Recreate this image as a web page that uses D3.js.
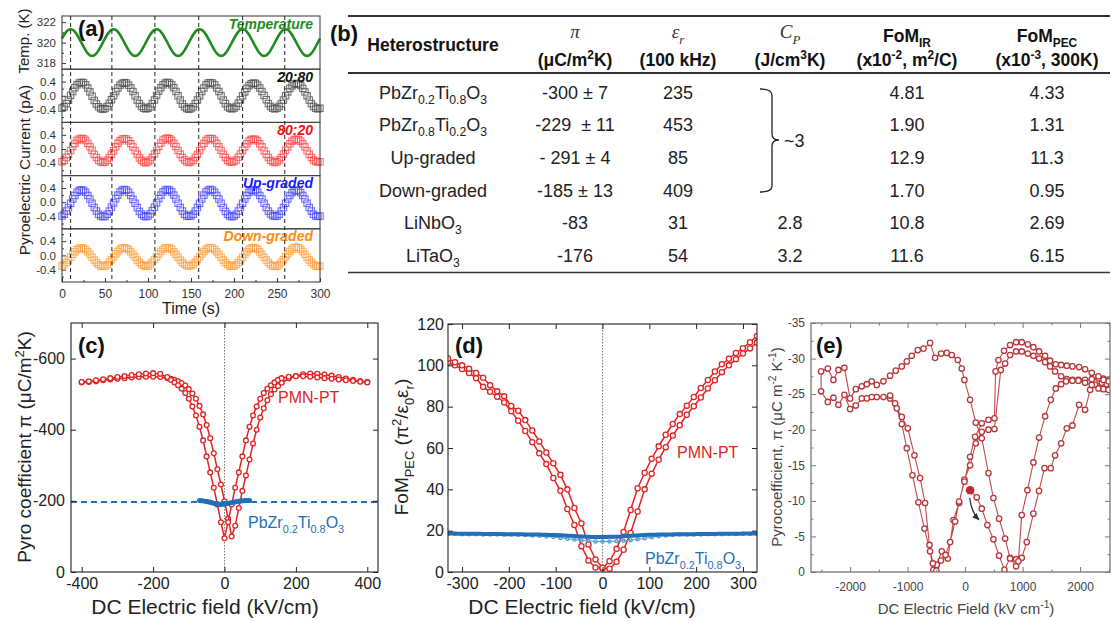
<!DOCTYPE html>
<html><head><meta charset="utf-8">
<script src="https://cdn.jsdelivr.net/npm/d3@7"></script>
<style>body{margin:0;background:#fff}</style>
</head><body>
<script>
// ---------- (a) pyroelectric current vs time, sampled every 2.5 s ----------
var aStep = 2.5;
var aTemp = [320.40,320.76,321.05,321.24,
 321.30,321.24,321.05,320.76,320.40,320.00,319.60,319.24,318.95,318.76,318.70,318.76,318.95,319.24,319.60,320.00,320.40,320.76,321.05,321.24,
 321.30,321.24,321.05,320.76,320.40,320.00,319.60,319.24,318.95,318.76,318.70,318.76,318.95,319.24,319.60,320.00,320.40,320.76,321.05,321.24,
 321.30,321.24,321.05,320.76,320.40,320.00,319.60,319.24,318.95,318.76,318.70,318.76,318.95,319.24,319.60,320.00,320.40,320.76,321.05,321.24,
 321.30,321.24,321.05,320.76,320.40,320.00,319.60,319.24,318.95,318.76,318.70,318.76,318.95,319.24,319.60,320.00,320.40,320.76,321.05,321.24,
 321.30,321.24,321.05,320.76,320.40,320.00,319.60,319.24,318.95,318.76,318.70,318.76,318.95,319.24,319.60,320.00,320.40,320.76,321.05,321.24,
 321.30,321.24,321.05,320.76,320.40,320.00,319.60,319.24,318.95,318.76,318.70,318.76,318.95,319.24,319.60,320.00,320.40];
var a2080 = [-0.35,-0.31,-0.22,-0.12,0.01,0.12,0.23,0.31,0.36,0.38,0.37,0.31,0.22,0.11,-0.01,-0.13,-0.23,-0.31,-0.36,-0.38,
 -0.36,-0.30,-0.21,-0.11,0.00,0.12,0.22,0.30,0.35,0.37,0.36,0.30,0.22,0.12,0.00,-0.12,-0.22,-0.30,-0.35,-0.37,
 -0.35,-0.31,-0.22,-0.12,0.01,0.13,0.23,0.31,0.36,0.38,0.36,0.31,0.23,0.12,0.00,-0.12,-0.23,-0.31,-0.36,-0.38,
 -0.36,-0.31,-0.22,-0.12,0.00,0.12,0.22,0.31,0.36,0.37,0.36,0.31,0.22,0.12,0.00,-0.12,-0.22,-0.31,-0.35,-0.37,
 -0.35,-0.30,-0.21,-0.11,0.00,0.11,0.21,0.29,0.34,0.36,0.35,0.30,0.22,0.12,0.01,-0.11,-0.22,-0.30,-0.35,-0.37,
 -0.35,-0.30,-0.22,-0.12,0.00,0.11,0.21,0.28,0.33,0.35,0.33,0.29,0.21,0.11,0.00,-0.12,-0.22,-0.30,-0.35,-0.37,-0.35];
var a8020 = [-0.36,-0.32,-0.24,-0.15,-0.04,0.07,0.16,0.24,0.28,0.30,0.29,0.24,0.16,0.06,-0.04,-0.15,-0.24,-0.32,-0.36,-0.38,
 -0.37,-0.32,-0.25,-0.15,-0.05,0.06,0.16,0.23,0.28,0.29,0.28,0.23,0.15,0.06,-0.05,-0.15,-0.25,-0.32,-0.37,-0.39,
 -0.36,-0.31,-0.24,-0.14,-0.04,0.07,0.17,0.25,0.29,0.31,0.29,0.24,0.16,0.07,-0.04,-0.15,-0.24,-0.31,-0.36,-0.38,
 -0.36,-0.32,-0.24,-0.15,-0.04,0.07,0.16,0.24,0.29,0.30,0.29,0.24,0.16,0.06,-0.04,-0.15,-0.24,-0.32,-0.36,-0.37,
 -0.35,-0.31,-0.23,-0.14,-0.04,0.06,0.15,0.23,0.27,0.28,0.27,0.23,0.15,0.06,-0.05,-0.15,-0.24,-0.32,-0.36,-0.38,
 -0.36,-0.31,-0.24,-0.14,-0.04,0.06,0.15,0.22,0.26,0.28,0.26,0.22,0.15,0.06,-0.05,-0.15,-0.24,-0.31,-0.35,-0.37,-0.36];
var aUp = [-0.39,-0.34,-0.25,-0.15,-0.03,0.09,0.19,0.28,0.33,0.35,0.33,0.28,0.19,0.09,-0.03,-0.15,-0.25,-0.34,-0.39,-0.41,
 -0.40,-0.34,-0.25,-0.14,-0.02,0.10,0.20,0.29,0.34,0.36,0.34,0.28,0.19,0.08,-0.03,-0.15,-0.26,-0.34,-0.39,-0.41,
 -0.39,-0.33,-0.24,-0.14,-0.02,0.10,0.20,0.29,0.34,0.36,0.34,0.29,0.20,0.09,-0.03,-0.15,-0.25,-0.34,-0.39,-0.40,
 -0.39,-0.34,-0.25,-0.15,-0.03,0.09,0.20,0.29,0.34,0.36,0.34,0.28,0.19,0.09,-0.03,-0.15,-0.26,-0.34,-0.39,-0.41,
 -0.39,-0.34,-0.25,-0.15,-0.03,0.09,0.19,0.28,0.33,0.35,0.33,0.28,0.19,0.09,-0.03,-0.15,-0.25,-0.33,-0.38,-0.40,
 -0.39,-0.34,-0.25,-0.15,-0.03,0.09,0.19,0.27,0.32,0.34,0.32,0.27,0.19,0.09,-0.03,-0.15,-0.25,-0.34,-0.39,-0.40,-0.39];
var aDown = [-0.30,-0.26,-0.20,-0.13,-0.05,0.03,0.10,0.16,0.20,0.21,0.20,0.16,0.10,0.03,-0.05,-0.13,-0.20,-0.26,-0.30,-0.31,
 -0.30,-0.26,-0.19,-0.12,-0.04,0.04,0.11,0.17,0.21,0.22,0.20,0.16,0.10,0.03,-0.05,-0.13,-0.20,-0.26,-0.29,-0.31,
 -0.30,-0.25,-0.19,-0.12,-0.04,0.04,0.11,0.17,0.21,0.22,0.21,0.17,0.10,0.03,-0.05,-0.13,-0.20,-0.25,-0.29,-0.30,
 -0.29,-0.25,-0.19,-0.12,-0.04,0.04,0.11,0.17,0.21,0.22,0.21,0.16,0.10,0.03,-0.05,-0.13,-0.20,-0.26,-0.30,-0.31,
 -0.30,-0.26,-0.20,-0.13,-0.05,0.03,0.10,0.17,0.21,0.22,0.21,0.17,0.10,0.03,-0.05,-0.13,-0.20,-0.26,-0.30,-0.31,
 -0.30,-0.26,-0.19,-0.12,-0.04,0.04,0.11,0.17,0.22,0.23,0.22,0.17,0.11,0.03,-0.05,-0.13,-0.20,-0.26,-0.30,-0.31,-0.30];
var aDashTimes = [10,58,108,159,210,259];
var aTimeTicks = [0,50,100,150,200,250,300];

// ---------- (b) table ----------
var tabHead1 = ["Heterostructure","π","ε_{r}","C_{P}","FoM_{IR}","FoM_{PEC}"];
var tabHead2 = ["","(μC/m^{2}K)","(100 kHz)","(J/cm^{3}K)","(x10^{-2}, m^{2}/C)","(x10^{-3}, 300K)"];
var tabNames = ["PbZr_{0.2}Ti_{0.8}O_{3}","PbZr_{0.8}Ti_{0.2}O_{3}","Up-graded","Down-graded","LiNbO_{3}","LiTaO_{3}"];
var tabPi = ["-300 ± 7","-229  ± 11","- 291 ± 4","-185 ± 13","-83","-176"];
var tabEps = ["235","453","85","409","31","54"];
var tabCp = ["","","","","2.8","3.2"];
var tabFomIR = ["4.81","1.90","12.9","1.70","10.8","11.6"];
var tabFomPEC = ["4.33","1.31","11.3","0.95","2.69","6.15"];

// ---------- (c) pyro coefficient vs field ----------
var cField = [-400,-380,-360,-340,-320,-300,-280,-260,-240,-220,-200,-180,-160,
 -150,-140,-130,-120,-110,-100,-90,-80,-70,-60,-50,-40,-30,-20,-10,0,10,20,30,40,50,60,70,80,90,100,110,120,130,140,150,
 160,180,200,220,240,260,280,300,320,340,360,380,400];
var cPmnDown = [-534,-536,-539,-542,-545,-548,-551,-554,-556,-558,-559,-557,-548,
 -540,-533,-525,-515,-503,-487,-465,-440,-408,-370,-325,-280,-237,-190,-140,-95,-140,-190,-237,-280,-325,-370,-408,-440,-465,-487,-503,-515,-525,-533,-540,
 -545,-549,-550,-550,-549,-547,-545,-543,-541,-539,-537,-535,-533];
var cPmnUp = [-533,-534,-536,-539,-541,-543,-545,-547,-548,-549,-549,-548,-545,
 -543,-540,-536,-531,-524,-514,-502,-487,-467,-443,-413,-376,-334,-289,-246,-199,-150,-100,-130,-180,-228,-271,-316,-361,-400,-434,-460,-483,-500,-513,-523,
 -532,-544,-551,-556,-558,-557,-555,-552,-548,-544,-540,-537,-534];
var cPztField = [-70,-60,-50,-40,-30,-20,-10,0,10,20,30,40,50,60,70];
var cPzt = [-201,-200,-198,-196,-193,-191,-190,-191,-193,-195,-197,-199,-200,-201,-201];
var cPztRef = -197;

// ---------- (d) FoM_PEC vs field ----------
var dField = [-330,-315,-300,-285,-270,-255,-240,-225,-210,-195,-180,-165,-150,-135,-120,-105,-90,-75,-60,-45,-30,-15,0,
 15,30,45,60,75,90,105,120,135,150,165,180,195,210,225,240,255,270,285,300,315,330];
var dPmn1 = [101.4,100,98.2,96.3,93.8,89.6,87.2,84.8,82,77.8,73.2,68.2,62.8,57.4,52.2,45.5,39.3,30.5,22.8,12.5,5.6,2.2,1.8,
 5.2,11.2,19.4,30,40.5,48,54.8,60.8,66.4,71.6,76.4,80.5,84.7,89,92.9,97,100.5,103.2,106,108.3,111.2,114.2];
var dPmn2 = [103.3,101.5,100,98.4,96.3,94,90.4,87.4,85,80.3,78,73.5,68.5,63.2,57.8,52.6,47,40,31,23.5,13.3,6.1,2.1,
 1.6,4.9,10.8,18.9,29.3,40,47.6,54.3,60.4,66,71,76.1,80.2,84.4,88.8,92.8,96.7,100,103,105.7,108.2,111];
var dPzt1 = [18.6,18.6,18.5,18.5,18.5,18.4,18.4,18.4,18.3,18.3,18.3,18.2,18.2,18.1,18.0,17.9,17.8,17.6,17.4,17.2,17.0,16.9,16.9,
 17.0,17.1,17.3,17.5,17.7,17.9,18.0,18.1,18.2,18.2,18.3,18.3,18.3,18.4,18.4,18.4,18.5,18.5,18.5,18.6,18.6,18.6];
var dPzt2 = [18.4,18.4,18.3,18.3,18.3,18.2,18.2,18.2,18.1,18.1,18.0,17.9,17.7,17.5,17.2,16.9,16.5,16.1,15.7,15.3,15.0,14.8,14.7,
 14.8,14.9,15.1,15.4,15.8,16.3,16.8,17.3,17.7,18.0,18.1,18.2,18.2,18.2,18.3,18.3,18.3,18.4,18.4,18.4,18.4,18.4];

// ---------- (e) pyrocoefficient loop, in measurement order ----------
var eStart = [87,-11.5];
var eLoop = [[87,-11.5],[203,-10.5],[290,-8.9],[388,-6.6],[493,-4.6],[591,-2.3],[684,-0.3],[783,-2.0],[887,-1.8],[986,-2.0],[1072,-4.2],[1188,-8.2],[1285,-11.4],[1380,-14.6],[1490,-14.6],[1565,-16.4],[1670,-18.1],[1768,-20.2],[1867,-20.6],[1983,-23.5],[2087,-22.8],[2174,-25.6],[2261,-26.3],[2377,-26.6],[2493,-25.7],
 [2493,-27.0],[2406,-27.2],[2319,-27.2],[2203,-27.1],[2087,-27.0],[1971,-27.0],[1867,-27.0],[1768,-27.1],[1670,-27.5],[1565,-28.2],[1478,-28.9],[1391,-29.5],[1287,-30.0],[1188,-30.4],[1090,-30.7],[986,-31.0],[887,-31.0],[783,-30.5],[696,-29.3],[620,-28.4],
 [510,-20.1],[406,-20.0],[290,-19.7],[186,-18.1],[87,-15.0],[-12,-13.0],[-104,-9.7],[-203,-7.3],[-301,-1.9],[-406,-2.9],[-493,-1.0],[-551,-0.3],[-609,-2.9],[-707,-6.1],[-812,-9.8],[-916,-13.6],[-1014,-17.4],[-1101,-20.8],[-1217,-23.7],[-1304,-24.4],[-1420,-24.6],[-1536,-24.6],[-1623,-24.6],[-1710,-24.4],[-1797,-24.4],[-1901,-23.4],[-2000,-22.9],[-2099,-24.9],[-2203,-23.5],[-2290,-24.5],[-2388,-23.9],[-2504,-25.4],
 [-2504,-28.2],[-2388,-28.6],[-2290,-27.0],[-2203,-28.4],[-2099,-28.7],[-2000,-24.4],[-1901,-25.7],[-1797,-26.1],[-1710,-26.4],[-1623,-26.8],[-1536,-26.3],[-1420,-26.8],[-1304,-27.6],[-1206,-28.3],[-1101,-28.9],[-1014,-29.6],[-928,-30.4],[-823,-31.2],[-725,-31.4],[-609,-32.2],[-522,-30.1],[-417,-30.7],[-319,-30.8],[-232,-30.5],[-128,-29.8],[-58,-28.6],[-12,-27.0],
 [87,-24.2],[186,-21.0],[290,-18.8],[406,-13.9],[493,-10.4],[591,-7.5],[696,-4.7],[783,-1.9],[887,-0.8],[927,-1.5],[985,-8.0],[1084,-11.5],[1188,-15.4],[1287,-18.9],[1391,-21.9],[1490,-24.2],[1577,-25.8],[1670,-26.4],[1757,-26.8],[1867,-26.9],[1971,-26.9],[2087,-26.6],[2203,-26.3],[2319,-25.8],[2406,-25.7],[2493,-25.6],
 [2493,-26.8],[2406,-27.0],[2319,-27.5],[2203,-28.0],[2087,-28.5],[1983,-28.8],[1867,-28.9],[1768,-29.0],[1670,-29.1],[1577,-29.2],[1478,-29.7],[1391,-30.4],[1287,-31.0],[1188,-31.6],[1090,-32.0],[986,-32.3],[887,-32.3],[783,-31.9],[678,-31.1],[580,-29.8],[530,-28.2],
 [510,-21.6],[406,-21.4],[290,-20.9],[174,-19.0],[87,-16.2],[-12,-12.7],[-104,-9.9],[-174,-7.1],[-260,-4.2],[-340,-2.4],[-420,-1.6],[-500,-0.2],[-560,-1.2],[-620,-3.8],[-696,-9.7],[-783,-13.2],[-881,-16.4],[-997,-20.2],[-1101,-21.8],[-1188,-23.0],[-1304,-24.8]];

var FONT = "Arial, 'Liberation Sans', Helvetica, sans-serif";
var SERIF = "'Liberation Serif', 'Times New Roman', serif";

var svg = d3.select("body").append("svg").attr("width", 1111).attr("height", 621).style("font-family", FONT);
svg.append("rect").attr("width", 1111).attr("height", 621).attr("fill", "white");

// split "a_{b}c^{d}" into [text, mode] parts
function parseRich(s){
  return s.split(/(_\{[^}]*\}|\^\{[^}]*\})/).filter(function(x){return x.length;}).map(function(x){
    if(x[0]=="_" && x[1]=="{") return [x.slice(2,-1),"sub"];
    if(x[0]=="^" && x[1]=="{") return [x.slice(2,-1),"sup"];
    return [x,""];
  });
}
function rich(txt, s, fs){
  var shift = 0;
  parseRich(s).forEach(function(p){
    var target = p[1]=="sub" ? fs*0.3 : (p[1]=="sup" ? -fs*0.38 : 0);
    txt.append("tspan").attr("dy", (target-shift).toFixed(2)).style("font-size", (p[1] ? fs*0.68 : fs)+"px").text(p[0]);
    shift = target;
  });
  return txt;
}
function label(x, y, s, fs, opt){
  opt = opt || {};
  var t = svg.append("text").attr("x", x).attr("y", y).attr("text-anchor", opt.anchor || "middle")
    .style("fill", opt.fill || "#222").style("font-weight", opt.weight || "normal").style("font-style", opt.style || "normal")
    .style("white-space", "pre");
  if(opt.family) t.style("font-family", opt.family);
  return rich(t, s, fs);
}
function vlabel(x, y, s, fs, fill){
  var t = svg.append("text").attr("transform", "translate("+x+","+y+") rotate(-90)").attr("text-anchor", "middle").style("fill", fill || "#222");
  return rich(t, s, fs);
}
function styleAxis(g, fs, col, lineCol){
  g.select(".domain").remove();
  g.selectAll(".tick line").attr("stroke", lineCol || "#333");
  g.selectAll(".tick text").style("font-size", fs+"px").style("fill", col).style("font-family", FONT);
}

// ======================= (a) =======================
var aX = d3.scaleLinear().domain([0,300]).range([62,320]);
var aTop = 16, aH = 53.2, aBottom = aTop + 5*aH;
var aRows = [
  {name:"Temperature", vals:aTemp, dom:[317.4,322.6], ticks:[318,320,322], minor:[319,321], fmt:function(d){return d;}, col:"#1e8c1e", lab:"#1e8c1e"},
  {name:"20:80", vals:a2080, dom:[-0.75,0.75], ticks:[-0.4,0,0.4], minor:[-0.6,-0.2,0.2,0.6], fmt:function(d){return d.toFixed(1);}, col:"#505050", lab:"#111"},
  {name:"80:20", vals:a8020, dom:[-0.75,0.75], ticks:[-0.4,0,0.4], minor:[-0.6,-0.2,0.2,0.6], fmt:function(d){return d.toFixed(1);}, col:"#ff4a4a", lab:"#ff1010"},
  {name:"Up-graded", vals:aUp, dom:[-0.75,0.75], ticks:[-0.4,0,0.4], minor:[-0.6,-0.2,0.2,0.6], fmt:function(d){return d.toFixed(1);}, col:"#4a4aff", lab:"#1a1aff"},
  {name:"Down-graded", vals:aDown, dom:[-0.75,0.75], ticks:[-0.4,0,0.4], minor:[-0.6,-0.2,0.2,0.6], fmt:function(d){return d.toFixed(1);}, col:"#ffa040", lab:"#ff8c10"}
];

aRows.forEach(function(r, i){
  var y0 = aTop + i*aH;
  var yS = d3.scaleLinear().domain(r.dom).range([y0+aH, y0]);
  var ga = svg.append("g").attr("transform", "translate(62,0)")
    .call(d3.axisLeft(yS).tickValues(r.ticks).tickSize(-4).tickPadding(6).tickFormat(r.fmt));
  styleAxis(ga, 11.5, "#333");
  var gm = svg.append("g").attr("transform", "translate(62,0)")
    .call(d3.axisLeft(yS).tickValues(r.minor).tickSize(-2).tickFormat(""));
  styleAxis(gm, 11.5, "#333");
  if(i == 0){
    svg.append("path").datum(r.vals)
      .attr("d", d3.line().curve(d3.curveMonotoneX).x(function(d,k){return aX(k*aStep);}).y(function(d){return yS(d);}))
      .attr("fill", "none").attr("stroke", r.col).attr("stroke-width", 2.6);
  } else {
    svg.append("g").selectAll("rect").data(r.vals).enter().append("rect")
      .attr("x", function(d,k){return aX(k*aStep)-3.2;}).attr("y", function(d){return yS(d)-3.2;})
      .attr("width", 6.4).attr("height", 6.4)
      .attr("fill", "none").attr("stroke", r.col).attr("stroke-width", 1.1).attr("opacity", 0.8);
  }
  svg.append("rect").attr("x", 62).attr("y", y0).attr("width", 258).attr("height", aH)
    .attr("fill", "none").attr("stroke", "#444").attr("stroke-width", 1.1);
  label(313, y0 + 12.5, r.name, 14, {anchor:"end", fill:r.lab, weight:"bold", style:"italic"});
});

svg.append("g").selectAll("line").data(aDashTimes).enter().append("line")
  .attr("x1", function(d){return aX(d);}).attr("x2", function(d){return aX(d);})
  .attr("y1", aTop).attr("y2", aBottom)
  .attr("stroke", "#222").attr("stroke-width", 1).attr("stroke-dasharray", "4,3");

var gat = svg.append("g").attr("transform", "translate(0,"+aBottom+")")
  .call(d3.axisBottom(aX).tickValues(aTimeTicks).tickSize(-4).tickPadding(7));
styleAxis(gat, 12, "#333");
var gatm = svg.append("g").attr("transform", "translate(0,"+aBottom+")")
  .call(d3.axisBottom(aX).tickValues([25,75,125,175,225,275]).tickSize(-2).tickFormat(""));
styleAxis(gatm, 12, "#333");

label(191, 314, "Time (s)", 16, {fill:"#222"});
vlabel(29, 41, "Temp. (K)", 15);
vlabel(30, 170, "Pyroelectric Current (pA)", 15.5);
label(78, 36, "(a)", 22, {anchor:"start", weight:"bold", fill:"#111"});

// ======================= (b) table =======================
var tCols = [433, 575, 678, 790, 907, 1047];
var tRows = [92, 124, 157, 190, 222.5, 255];
label(330, 41, "(b)", 22, {anchor:"start", weight:"bold", fill:"#111"});
svg.append("line").attr("x1", 348).attr("x2", 1110).attr("y1", 16).attr("y2", 16).attr("stroke", "#333").attr("stroke-width", 2);
svg.append("line").attr("x1", 348).attr("x2", 1110).attr("y1", 73).attr("y2", 73).attr("stroke", "#333").attr("stroke-width", 2);
svg.append("line").attr("x1", 348).attr("x2", 1110).attr("y1", 272.5).attr("y2", 272.5).attr("stroke", "#333").attr("stroke-width", 1.6);

label(tCols[0], 51, tabHead1[0], 17.5, {weight:"bold", fill:"#111"});
[1,2,3].forEach(function(c){
  label(tCols[c], 38, tabHead1[c], 19, {family:SERIF, style:"italic", fill:"#333"});
});
[4,5].forEach(function(c){
  label(tCols[c], 42, tabHead1[c], 17.5, {weight:"bold", fill:"#111"});
});
[1,2,3,4,5].forEach(function(c){
  label(tCols[c], 66, tabHead2[c], 17.5, {weight:"bold", fill:"#111"});
});
var tabCols = [tabNames, tabPi, tabEps, tabCp, tabFomIR, tabFomPEC];
tabCols.forEach(function(col, c){
  col.forEach(function(s, r){
    if(s) label(tCols[c], tRows[r]+6.5, s, 18, {fill:"#222"});
  });
});
// brace for the shared heat capacity
svg.append("path")
  .attr("d", "M760,89 Q772,89 772,95 L772,134 Q772,140 779,140 Q772,140 772,146 L772,186 Q772,192 760,192")
  .attr("fill", "none").attr("stroke", "#222").attr("stroke-width", 1.3);
label(784, 146.5, "~3", 18, {anchor:"start", fill:"#222"});

// ======================= helpers for (c)(d)(e) =======================
function frame(x, y, o){
  var xr = x.range(), yr = y.range();
  var g = svg.append("g");
  var gb = g.append("g").attr("transform", "translate(0,"+yr[0]+")")
    .call(d3.axisBottom(x).tickValues(o.xt).tickSize(-o.tl).tickPadding(o.xpad).tickFormat(function(d){return d;}));
  styleAxis(gb, o.fs, o.col, o.line);
  var gl = g.append("g").attr("transform", "translate("+xr[0]+",0)")
    .call(d3.axisLeft(y).tickValues(o.yt).tickSize(-o.tl).tickPadding(o.ypad).tickFormat(function(d){return d;}));
  styleAxis(gl, o.fs, o.col, o.line);
  var gt = g.append("g").attr("transform", "translate(0,"+yr[1]+")")
    .call(d3.axisTop(x).tickValues(o.xt).tickSize(-o.tl).tickFormat(""));
  styleAxis(gt, o.fs, o.col, o.line);
  var gr = g.append("g").attr("transform", "translate("+xr[1]+",0)")
    .call(d3.axisRight(y).tickValues(o.yt).tickSize(-o.tl).tickFormat(""));
  styleAxis(gr, o.fs, o.col, o.line);
  if(o.xm){
    [d3.axisBottom, d3.axisTop].forEach(function(ax, k){
      var gg = g.append("g").attr("transform", "translate(0,"+(k ? yr[1] : yr[0])+")")
        .call(ax(x).tickValues(o.xm).tickSize(-o.tl/2).tickFormat(""));
      styleAxis(gg, o.fs, o.col, o.line);
    });
    [d3.axisLeft, d3.axisRight].forEach(function(ax, k){
      var gg = g.append("g").attr("transform", "translate("+(k ? xr[1] : xr[0])+",0)")
        .call(ax(y).tickValues(o.ym).tickSize(-o.tl/2).tickFormat(""));
      styleAxis(gg, o.fs, o.col, o.line);
    });
  }
  g.append("rect").attr("x", xr[0]).attr("y", yr[1]).attr("width", xr[1]-xr[0]).attr("height", yr[0]-yr[1])
    .attr("fill", "none").attr("stroke", o.line).attr("stroke-width", o.sw || 1.1);
}
function clipFor(id, x, y){
  var xr = x.range(), yr = y.range();
  svg.append("clipPath").attr("id", id).append("rect")
    .attr("x", xr[0]).attr("y", yr[1]).attr("width", xr[1]-xr[0]).attr("height", yr[0]-yr[1]);
  return svg.append("g").attr("clip-path", "url(#"+id+")");
}
function circleSeries(g, xs, ys, x, y, col, r, lw, fill){
  var pts = xs.map(function(v,i){return [v, ys[i]];});
  g.append("path").datum(pts).attr("d", d3.line().x(function(d){return x(d[0]);}).y(function(d){return y(d[1]);}))
    .attr("fill", "none").attr("stroke", col).attr("stroke-width", lw);
  g.append("g").selectAll("circle").data(pts).enter().append("circle")
    .attr("cx", function(d){return x(d[0]);}).attr("cy", function(d){return y(d[1]);}).attr("r", r)
    .attr("fill", fill || "white").attr("stroke", col).attr("stroke-width", 1.3);
}

var RED = "#e02424", BLUE = "#1f70b8";

// ======================= (c) =======================
var cX = d3.scaleLinear().domain([-430,430]).range([71,378]);
var cY = d3.scaleLinear().domain([0,-700]).range([572,323]);
var gc = clipFor("clipc", cX, cY);
gc.append("line").attr("x1", cX(0)).attr("x2", cX(0)).attr("y1", 323).attr("y2", 572)
  .attr("stroke", "#555").attr("stroke-width", 0.8).attr("stroke-dasharray", "1.5,1.5");
circleSeries(gc, cField, cPmnUp, cX, cY, RED, 2.4, 1.5);
circleSeries(gc, cField, cPmnDown, cX, cY, RED, 2.4, 1.5);
gc.append("line").attr("x1", 71).attr("x2", 378).attr("y1", cY(cPztRef)).attr("y2", cY(cPztRef))
  .attr("stroke", BLUE).attr("stroke-width", 2).attr("stroke-dasharray", "6,4");
var cPztPts = cPztField.map(function(v,i){return [v, cPzt[i]];});
gc.append("path").datum(cPztPts).attr("d", d3.line().curve(d3.curveMonotoneX).x(function(d){return cX(d[0]);}).y(function(d){return cY(d[1]);}))
  .attr("fill", "none").attr("stroke", BLUE).attr("stroke-width", 5).attr("stroke-linecap", "round");
frame(cX, cY, {xt:[-400,-200,0,200,400], yt:[0,-200,-400,-600], tl:5, xpad:6, ypad:6, fs:16, col:"#222", line:"#222"});
label(78, 353, "(c)", 22, {anchor:"start", weight:"bold", fill:"#111"});
label(278, 403, "PMN-PT", 16, {anchor:"start", fill:RED});
label(248, 528, "PbZr_{0.2}Ti_{0.8}O_{3}", 16, {anchor:"start", fill:BLUE});
label(205, 614, "DC Electric field (kV/cm)", 21, {fill:"#222"});
vlabel(31, 447, "Pyro coefficient π (μC/m^{2}K)", 19);

// ======================= (d) =======================
var dX = d3.scaleLinear().domain([-330,330]).range([448,757]);
var dY = d3.scaleLinear().domain([0,120]).range([572,324]);
var gd = clipFor("clipd", dX, dY);
gd.append("line").attr("x1", dX(0)).attr("x2", dX(0)).attr("y1", 324).attr("y2", 572)
  .attr("stroke", "#555").attr("stroke-width", 0.8).attr("stroke-dasharray", "1.5,1.5");
circleSeries(gd, dField, dPmn1, dX, dY, RED, 2.6, 1.5);
circleSeries(gd, dField, dPmn2, dX, dY, RED, 2.6, 1.5);
circleSeries(gd, dField, dPzt2, dX, dY, "#5a9ad6", 1.6, 1, "none");
var dPztPts = dField.map(function(v,i){return [v, dPzt1[i]];});
gd.append("path").datum(dPztPts).attr("d", d3.line().curve(d3.curveMonotoneX).x(function(d){return dX(d[0]);}).y(function(d){return dY(d[1]);}))
  .attr("fill", "none").attr("stroke", BLUE).attr("stroke-width", 4);
frame(dX, dY, {xt:[-300,-200,-100,0,100,200,300], yt:[0,20,40,60,80,100,120], tl:5, xpad:6, ypad:4, fs:16, col:"#222", line:"#222"});
label(455, 353, "(d)", 22, {anchor:"start", weight:"bold", fill:"#111"});
label(677, 458, "PMN-PT", 16, {anchor:"start", fill:RED});
label(645, 564, "PbZr_{0.2}Ti_{0.8}O_{3}", 16, {anchor:"start", fill:BLUE});
label(582, 614, "DC Electric field (kV/cm)", 21, {fill:"#222"});
vlabel(408, 447, "FoM_{PEC} (π^{2}/ε_{0}ε_{r})", 19);

// ======================= (e) =======================
var ERED = "#b8363b";
var eX = d3.scaleLinear().domain([-2680,2520]).range([811,1110]);
var eY = d3.scaleLinear().domain([0,-35]).range([572,323]);
var ge = clipFor("clipe", eX, eY);
ge.append("path").datum(eLoop).attr("d", d3.line().x(function(d){return eX(d[0]);}).y(function(d){return eY(d[1]);}))
  .attr("fill", "none").attr("stroke", ERED).attr("stroke-width", 1.1).attr("opacity", 0.9);
ge.append("g").selectAll("circle").data(eLoop).enter().append("circle")
  .attr("cx", function(d){return eX(d[0]);}).attr("cy", function(d){return eY(d[1]);}).attr("r", 2.7)
  .attr("fill", "white").attr("stroke", ERED).attr("stroke-width", 1.3);
ge.append("circle").attr("cx", eX(eStart[0])).attr("cy", eY(eStart[1])).attr("r", 4.3).attr("fill", "#c0282c");
// arrow annotation
svg.append("defs").append("marker").attr("id", "arrowhead").attr("viewBox", "0 0 10 10").attr("refX", 8).attr("refY", 5)
  .attr("markerWidth", 6).attr("markerHeight", 6).attr("orient", "auto")
  .append("path").attr("d", "M0,1 L10,5 L0,9 z").attr("fill", "#333");
var a0 = [eX(80), eY(-10.4)], a1 = [eX(235), eY(-7.4)], ac = [eX(110), eY(-8.4)];
svg.append("path").attr("d", "M"+a0+" Q"+ac+" "+a1).attr("fill", "none").attr("stroke", "#333").attr("stroke-width", 1.3)
  .attr("marker-end", "url(#arrowhead)");
frame(eX, eY, {xt:[-2000,-1000,0,1000,2000], yt:[0,-5,-10,-15,-20,-25,-30,-35],
  xm:[-2500,-1500,-500,500,1500,2500], ym:[-2.5,-7.5,-12.5,-17.5,-22.5,-27.5,-32.5],
  tl:5, xpad:10, ypad:6, fs:12, col:"#444", line:"#777", sw:1.3});
label(816, 353, "(e)", 22, {anchor:"start", weight:"bold", fill:"#111"});
label(966, 614, "DC Electric Field (kV cm^{-1})", 15, {fill:"#444"});
vlabel(782, 447, "Pyrocoefficient, π (μC m^{-2} K^{-1})", 15, "#444");
</script>
</body></html>
